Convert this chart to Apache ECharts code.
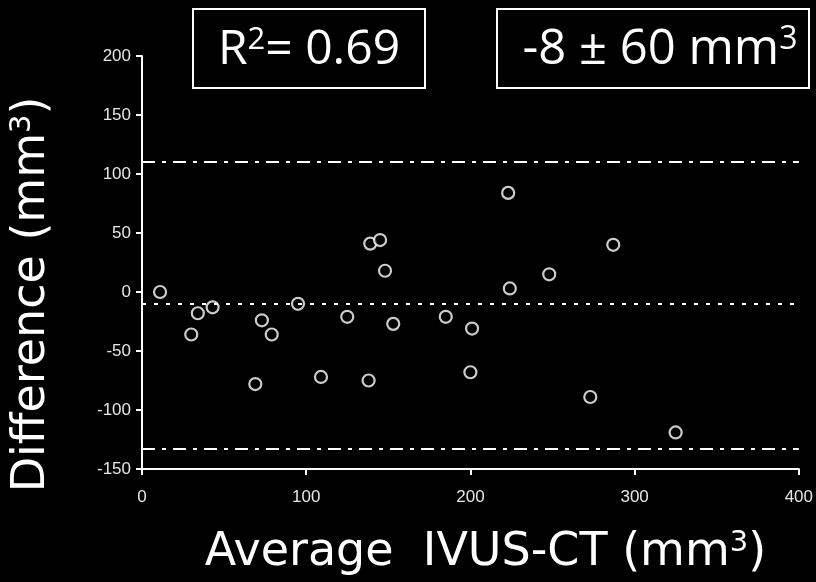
<!DOCTYPE html>
<html>
<head>
<meta charset="utf-8">
<script src="https://cdn.jsdelivr.net/npm/echarts@6/dist/echarts.min.js"></script>
<style>
html,body{margin:0;padding:0;background:#000;}
#c{width:816px;height:582px;}
</style>
</head>
<body>
<div id="c"></div>
<script>
// ---- data ----
var avgIvusCt = [11, 30, 34, 43, 69, 73, 79, 95, 109, 125, 138, 139, 145, 148, 153, 185, 200, 201, 223, 224, 248, 273, 287, 325];
var difference = [0, -36, -18, -13, -78, -24, -36, -10, -72, -21, -75, 41, 44, 18, -27, -21, -68, -31, 84, 3, 15, -89, 40, -119];
var meanDiff = -10;
var upperLimit = 110;
var lowerLimit = -133;
var xTicks = [0, 100, 200, 300, 400];
var yTicks = [-150, -100, -50, 0, 50, 100, 150, 200];

var points = avgIvusCt.map(function (x, i) { return [x, difference[i]]; });

var bigFont = '"DejaVu Sans", "Open Sans", sans-serif';
var boxFont = '"Open Sans", "DejaVu Sans", sans-serif';
var chart = echarts.init(document.getElementById('c'), null, {renderer: 'canvas'});

var axisCommon = {
  axisLine: {show: true, onZero: false, lineStyle: {color: '#fff', width: 2}},
  axisTick: {show: true, length: 6, lineStyle: {color: '#fff', width: 2}},
  splitLine: {show: false}
};
var labelStyle = {color: '#e6e6e6', fontFamily: '"Liberation Sans", Arial, sans-serif', fontSize: 17};

chart.setOption({
  backgroundColor: '#000',
  animation: false,
  grid: {left: 142, right: 16, top: 56, bottom: 110, containLabel: false},
  xAxis: Object.assign({
    type: 'value', min: xTicks[0], max: xTicks[xTicks.length - 1], interval: 100,
    name: '{t|Average  IVUS-CT (mm}{s|3}{t|)}',
    nameLocation: 'middle', nameGap: 58,
    nameTextStyle: {
      padding: [0, 0, 0, 30],
      rich: {
        t: {color: '#fff', fontFamily: bigFont, fontSize: 46, lineHeight: 52},
        s: {color: '#fff', fontFamily: bigFont, fontSize: 29, lineHeight: 52, padding: [0, 0, 19, 0]}
      }
    },
    axisLabel: Object.assign({margin: 20}, labelStyle)
  }, axisCommon),
  yAxis: Object.assign({
    type: 'value', min: yTicks[0], max: yTicks[yTicks.length - 1], interval: 50,
    name: '{t|Difference (mm}{s|3}{t|)}',
    nameLocation: 'middle', nameGap: 84, nameRotate: 90,
    nameTextStyle: {
      padding: [0, 64, 0, 0],
      rich: {
        t: {color: '#fff', fontFamily: bigFont, fontSize: 46, lineHeight: 52},
        s: {color: '#fff', fontFamily: bigFont, fontSize: 29, lineHeight: 52, padding: [0, 0, 19, 0]}
      }
    },
    axisLabel: Object.assign({margin: 11}, labelStyle)
  }, axisCommon),
  series: [{
    type: 'scatter',
    data: points,
    symbol: 'circle',
    symbolSize: 12,
    itemStyle: {color: '#000', borderColor: '#fff', borderWidth: 2.2},
    markLine: {
      silent: true,
      symbol: ['none', 'none'],
      label: {show: false},
      data: [
        {yAxis: upperLimit, lineStyle: {color: '#fff', width: 2, type: [13, 7, 4, 7]}},
        {yAxis: meanDiff, lineStyle: {color: '#fff', width: 2.2, type: [4, 8]}},
        {yAxis: lowerLimit, lineStyle: {color: '#fff', width: 2, type: [13, 7, 4, 7]}}
      ]
    }
  }],
  graphic: [
    {type: 'rect', shape: {x: 193, y: 9, width: 232, height: 79}, style: {fill: '#000', stroke: '#fff', lineWidth: 2}},
    {type: 'text', x: 309, y: 50, style: {
      text: '{t|R}{s|2}{t|= 0.69}', align: 'center', verticalAlign: 'middle',
      rich: {
        t: {fill: '#fff', fontFamily: boxFont, fontSize: 48, lineHeight: 54},
        s: {fill: '#fff', fontFamily: boxFont, fontSize: 31, lineHeight: 54, padding: [0, 0, 20, 0]}
      }
    }},
    {type: 'rect', shape: {x: 497, y: 9, width: 312, height: 79}, style: {fill: '#000', stroke: '#fff', lineWidth: 2}},
    {type: 'text', x: 660, y: 50, style: {
      text: '{t|-8 ± 60 mm}{s|3}', align: 'center', verticalAlign: 'middle',
      rich: {
        t: {fill: '#fff', fontFamily: boxFont, fontSize: 49, lineHeight: 54},
        s: {fill: '#fff', fontFamily: boxFont, fontSize: 32, lineHeight: 54, padding: [0, 0, 20, 0]}
      }
    }}
  ]
});
</script>
</body>
</html>
